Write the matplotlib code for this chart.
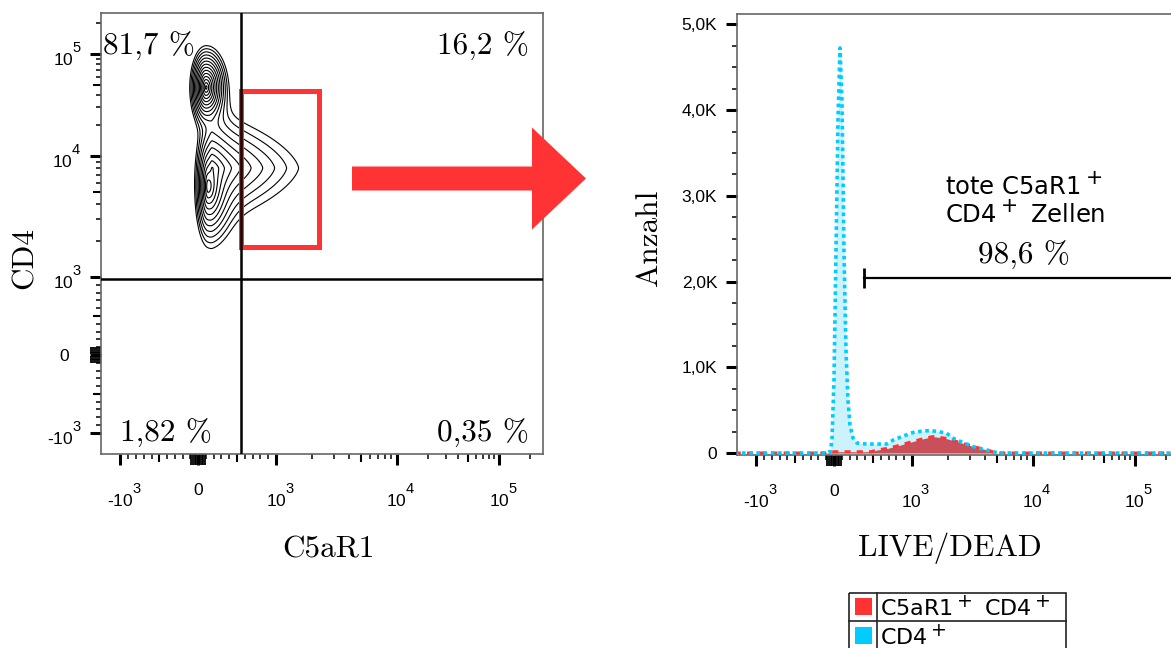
import numpy as np
import matplotlib
matplotlib.use('Agg')
import matplotlib.pyplot as plt
import matplotlib.patches as patches
import matplotlib._mathtext as mathtext_impl
from matplotlib.transforms import Affine2D, ScaledTranslation

plt.rcParams['font.family'] = ['Liberation Sans', 'DejaVu Sans']
plt.rcParams['mathtext.fontset'] = 'custom'
plt.rcParams['mathtext.rm'] = 'Liberation Sans'
plt.rcParams['mathtext.it'] = 'Liberation Sans:italic'
plt.rcParams['mathtext.bf'] = 'Liberation Sans:bold'
# FlowJo-like exponents: large and lifted high
mathtext_impl.SHRINK_FACTOR = 0.85
mathtext_impl.FontConstantsBase.sup1 = 1.45
mathtext_impl.DejaVuSansFontConstants.sup1 = 0.7

# ---- data ----
# contour populations (C5aR1 vs CD4): centre in fluorescence units,
# spread in display units (left / right / vertical), weight, shape exponent
POP_C5AR1 = [103, 128, 180]
POP_CD4 = [47000, 5600, 7960]
POP_SXL = [0.045, 0.045, 0.05]
POP_SXR = [0.06, 0.085, 0.45]
POP_SY = [0.115, 0.2, 0.27]
POP_W = [1.0, 0.4, 0.114]
POP_P = [2.0, 2.0, 1.5]

QUAD_X = 545      # vertical quadrant line
QUAD_Y = 980      # horizontal quadrant line
QUAD_PCT = ['81,7 %', '16,2 %', '1,82 %', '0,35 %']
GATE_X = (550, 2265)
GATE_Y = (1770, 43600)

# histogram LIVE/DEAD
LD_CD4 = [-1900, -100, -50, -26, 0, 26, 51, 77, 103, 128, 154, 179, 205, 244, 295, 360,
          440, 530, 600, 675, 761, 889, 1026, 1200, 1409, 1650, 1936, 2196, 2656, 3213,
          3885, 4696, 5164, 270000]
N_CD4 = [0, 0, 12, 152, 852, 2369, 3886, 4726, 4096, 2369, 1202, 618, 327, 175, 117, 108,
         105, 105, 105, 105, 152, 198, 241, 255, 262, 250, 230, 171, 120, 74,
         43, 15, 0, 0]
LD_C5 = [-1900, -100, -50, 474, 551, 692, 821, 974, 1209, 1489, 1875, 2265, 2741, 3383,
         4246, 4855, 5164, 270000]
N_C5 = [0, 0, 15, 15, 35, 55, 85, 125, 163, 192, 173, 140, 105, 66, 35, 4, 0, 0]
GATE_LD = (388, 300000)
GATE_N = 2040
GATE_PCT = '98,6 %'

RED = '#FF3333'
CYAN = '#00CCFF'

# ---- biexponential-like display scale ----
U_KNOT = np.array([-4.0, -1.0, 0.0, 1.0, 2.0, 3.0, 5.0])
T_KNOT = np.array([-3.994, -0.994, 0.0, 1.0, 2.551, 3.859, 6.475])


def to_u(v):
    v = np.asarray(v, float)
    a = np.abs(v)
    lg = 1 + np.log10(np.maximum(a, 1e-9) / 1000)
    return np.where(a <= 1000, v / 1000, np.sign(v) * lg)


def from_u(u):
    u = np.asarray(u, float)
    a = np.abs(u)
    return np.where(a <= 1, u * 1000, np.sign(u) * 1000 * 10 ** (np.maximum(a, 1) - 1))


def fwd(v):
    return np.interp(to_u(v), U_KNOT, T_KNOT)


def inv(t):
    return from_u(np.interp(t, T_KNOT, U_KNOT))


MAJ = [-1e3, 0, 1e3, 1e4, 1e5]
MAJ_LAB = [r'$\mathregular{\text{-}10^{3}}$', '0', r'$\mathregular{10^{3}}$',
           r'$\mathregular{10^{4}}$', r'$\mathregular{10^{5}}$']
CLUSTER = [s * k for s in (-1, 1) for k in (20, 45, 70, 95)]
MED = [-500, 500, 5e3, 5e4]
MINOR = ([-k for k in range(100, 1000, 100) if k != 500] +
         [k for k in range(100, 1000, 100) if k != 500] +
         [k * 1e3 for k in range(2, 10) if k != 5] +
         [k * 1e4 for k in range(2, 10) if k != 5] + [2e5])


def biex_axis(axis, labels):
    axis.set_ticks(MAJ + CLUSTER + MED)
    axis.set_ticklabels(labels + [''] * (len(CLUSTER) + len(MED)))
    axis.set_ticks(MINOR, minor=True)
    ticks = axis.get_major_ticks()
    for i, tk in enumerate(ticks):
        if i >= len(MAJ) + len(CLUSTER):
            tk.tick1line.set_markersize(5.8)
            tk.tick1line.set_markeredgewidth(1.5)
        elif i >= len(MAJ):
            tk.tick1line.set_markeredgewidth(1.3)
    return ticks


fig = plt.figure(figsize=(11.71, 6.48), dpi=100)
pix = Affine2D().scale(1 / 1171, -1 / 648).translate(0, 1) + fig.transFigure

# ---- left: contour plot ----
ax1 = fig.add_axes([101 / 1171, 194 / 648, 442 / 1171, 441 / 648])
ax1.set_xscale('function', functions=(fwd, inv))
ax1.set_yscale('function', functions=(fwd, inv))
ax1.set_xlim(inv(-1.244), inv(4.423))
ax1.set_ylim(inv(-1.269), inv(4.385))

tx = np.linspace(-0.6, 1.9, 400)
ty = np.linspace(1.0, 4.3, 440)
TX, TY = np.meshgrid(tx, ty)
Z = np.zeros_like(TX)
for cx, cy, sxl, sxr, sy, w, p in zip(POP_C5AR1, POP_CD4, POP_SXL, POP_SXR,
                                      POP_SY, POP_W, POP_P):
    dx = TX - fwd(cx)
    dx = np.abs(dx) / np.where(dx < 0, sxl, sxr)
    dy = np.abs(TY - fwd(cy)) / sy
    Z += w * np.exp(-(dx ** p + dy ** p) ** (1 / p))
levels = Z.max() * np.geomspace(0.01, 0.85, 14)
ax1.contour(inv(TX), inv(TY), Z, levels=levels, colors='black', linewidths=0.8)

ax1.add_patch(patches.Rectangle((GATE_X[0], GATE_Y[0]), GATE_X[1] - GATE_X[0],
                                GATE_Y[1] - GATE_Y[0], fill=False, ec=RED, lw=3.6, zorder=3))
ax1.axvline(QUAD_X, color='black', lw=1.8, zorder=4)
ax1.axhline(QUAD_Y, color='black', lw=1.8, zorder=4)

pct_font = dict(family='cmr10', fontsize=22.5, va='center', transform=ax1.transAxes)
ax1.text(0.005, 0.925, QUAD_PCT[0], ha='left', **pct_font)
ax1.text(0.968, 0.925, QUAD_PCT[1], ha='right', **pct_font)
ax1.text(0.043, 0.046, QUAD_PCT[2], ha='left', **pct_font)
ax1.text(0.968, 0.046, QUAD_PCT[3], ha='right', **pct_font)

# ---- right: histogram ----
ax2 = fig.add_axes([736.5 / 1171, 193 / 648, 443 / 1171, 441 / 648])
ax2.set_xscale('function', functions=(fwd, inv))
ax2.set_xlim(inv(-1.25), inv(4.43))
ax2.set_ylim(-23, 5122)

ax2.fill_between(LD_CD4, 0, N_CD4, color='#CCF3FB', lw=0, zorder=1)
ax2.fill_between(LD_C5, 0, N_C5, color='#C8505A', lw=0, zorder=2)
ax2.plot(LD_C5, N_C5, color=RED, lw=2.2, ls=(0, (2, 2)), zorder=3)
ax2.plot(LD_CD4, N_CD4, color=CYAN, lw=2.6, ls=(0, (1, 1)), zorder=4)

ax2.plot(GATE_LD, [GATE_N, GATE_N], color='black', lw=1.6, zorder=5)
ax2.plot([GATE_LD[0]], [GATE_N], marker='|', ms=14, mew=2, color='black', zorder=5)
ax2.text(8430, 2300, GATE_PCT, family='cmr10', fontsize=22.5, ha='center', va='center')
ax2.text(1886, 2950, 'tote C5aR1$^+$\nCD4$^+$ Zellen', family='DejaVu Sans',
         math_fontfamily='dejavusans', fontsize=17.5, ha='left', va='center',
         linespacing=1.05)

ax2.set_yticks([0, 1000, 2000, 3000, 4000, 5000])
ax2.set_yticklabels(['0', '1,0K', '2,0K', '3,0K', '4,0K', '5,0K'])
ax2.set_yticks([k * 250 for k in range(21) if k % 4], minor=True)

# ---- axes styling ----
for ax in (ax1, ax2):
    for sp in ax.spines.values():
        sp.set_color('#666666')
        sp.set_linewidth(1.2)
    ax.tick_params(which='major', direction='out', length=7.9, width=2.2,
                   labelsize=12.5, pad=6, color='black')
    ax.tick_params(which='minor', direction='out', length=3.6, width=1.1, color='black')
    ax.tick_params(top=False, right=False, which='both')
    ax.tick_params(axis='x', which='major', pad=13)

# centre the "10" of each exponent label on its tick
shift = ScaledTranslation(4 / 100, 0, fig.dpi_scale_trans)
for xt in (biex_axis(ax1.xaxis, MAJ_LAB), biex_axis(ax2.xaxis, MAJ_LAB)):
    for i in (0, 2, 3, 4):
        xt[i].label1.set_transform(xt[i].label1.get_transform() + shift)
yt = biex_axis(ax1.yaxis, MAJ_LAB)
yt[1].set_pad(15)

# axis titles
lab_font = dict(family='cmr10', fontsize=22.5, ha='center', va='center', transform=pix)
fig.text(25, 258, 'CD4', rotation=90, **lab_font)
fig.text(328, 550, 'C5aR1', **lab_font)
fig.text(649, 238, 'Anzahl', rotation=90, **lab_font)
fig.text(950, 548, 'LIVE/DEAD', **lab_font)

# arrow between panels
fig.add_artist(patches.FancyArrow(352, 178.5, 234, 0, width=24, head_width=102,
                                  head_length=54, length_includes_head=True,
                                  color=RED, lw=0, transform=pix))

# legend table
fig.add_artist(patches.Rectangle((848.5, 592.5), 217.5, 60, fill=False, ec='#222222',
                                 lw=1.2, transform=pix))
fig.add_artist(plt.Line2D([848.5, 1066], [620.5, 620.5], color='#222222', lw=1.2, transform=pix))
fig.add_artist(plt.Line2D([876.5, 876.5], [592.5, 650], color='#222222', lw=1.2, transform=pix))
fig.add_artist(patches.Rectangle((855, 598), 17, 17, color=RED, lw=0, transform=pix))
fig.add_artist(patches.Rectangle((855, 627), 17, 17, color=CYAN, lw=0, transform=pix))
fig.text(880, 607, 'C5aR1$^+$ CD4$^+$', family='DejaVu Sans', math_fontfamily='dejavusans',
         fontsize=16, ha='left', va='center', transform=pix)
fig.text(880, 636, 'CD4$^+$', family='DejaVu Sans', math_fontfamily='dejavusans',
         fontsize=16, ha='left', va='center', transform=pix)

fig.savefig('out.png', dpi=100)
